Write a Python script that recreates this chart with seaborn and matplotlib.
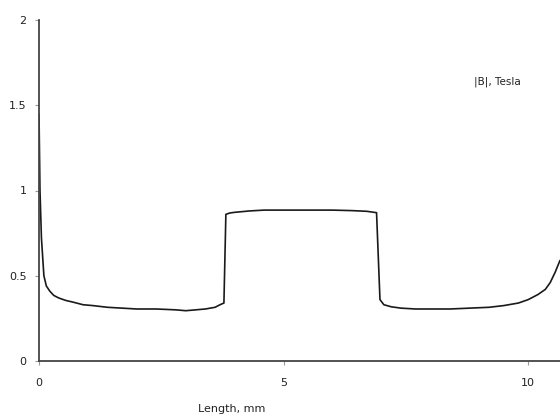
import numpy as np
import pandas as pd
import matplotlib.pyplot as plt
import seaborn as sns

###################################################################
# data
###################################################################

length_mm = [0.0, 0.02, 0.05, 0.1, 0.15, 0.22, 0.3, 0.4, 0.55, 0.7, 0.9, 1.1,
             1.4, 1.7, 2.0, 2.4, 2.8, 3.0, 3.2, 3.4, 3.6, 3.7, 3.78, 3.82,
             3.9, 4.0, 4.3, 4.6, 5.0, 5.5, 6.0, 6.4, 6.7, 6.9, 6.97, 7.05,
             7.2, 7.4, 7.7, 8.0, 8.4, 8.8, 9.2, 9.5, 9.8, 10.0, 10.2, 10.35,
             10.45, 10.55, 10.65]
b_tesla = [1.45, 1.0, 0.72, 0.5, 0.44, 0.41, 0.385, 0.37, 0.355, 0.345, 0.33, 0.325,
           0.315, 0.31, 0.305, 0.305, 0.3, 0.295, 0.3, 0.305, 0.315, 0.33, 0.34, 0.86,
           0.868, 0.872, 0.88, 0.885, 0.885, 0.885, 0.885, 0.882, 0.878, 0.87, 0.36, 0.33,
           0.318, 0.31, 0.305, 0.305, 0.305, 0.31, 0.315, 0.325, 0.34, 0.36, 0.39, 0.42,
           0.46, 0.52, 0.59]

x_ticks = [0, 5, 10]
y_ticks = [0, 0.5, 1, 1.5, 2]
y_tick_labels = ['0', '0.5', '1', '1.5', '2']

df = pd.DataFrame({'Length': length_mm, 'B': b_tesla})

###################################################################
# plot
###################################################################

sns.set_style('ticks')
plt.rcParams['font.family'] = ['DejaVu Sans']

fig = plt.figure(figsize=(5.6, 4.18), dpi=100)
ax = fig.add_axes([39 / 560, 1 - 361 / 418, 1 - 39 / 560, (361 - 20) / 418])

sns.lineplot(data=df, x='Length', y='B', ax=ax, color='#1a1a1a', linewidth=1.2,
             estimator=None, sort=False)

ax.set_xlim(0, 10.65)
ax.set_ylim(0, 2)
ax.set_xticks(x_ticks)
ax.set_xticklabels([str(t) for t in x_ticks])
ax.set_yticks(y_ticks)
ax.set_yticklabels(y_tick_labels)
ax.tick_params(axis='both', labelsize=8, length=3, width=0.8, colors='#999999',
               labelcolor='#222222', pad=6)
ax.tick_params(axis='x', pad=9)

for s in ['top', 'right']:
    ax.spines[s].set_visible(False)
for s in ['left', 'bottom']:
    ax.spines[s].set_color('#444444')
    ax.spines[s].set_linewidth(1.3)
ax.spines['left'].set_clip_on(False)

ax.set_ylabel('')
ax.set_xlabel('Length, mm', fontsize=8, color='#222222')
ax.xaxis.set_label_coords(0.37, -0.125)

ax.text(0.879, 0.818, '|B|, Tesla', transform=ax.transAxes, fontsize=7.5,
        color='#222222', ha='center', va='center')

fig.savefig('out.png', dpi=100)
